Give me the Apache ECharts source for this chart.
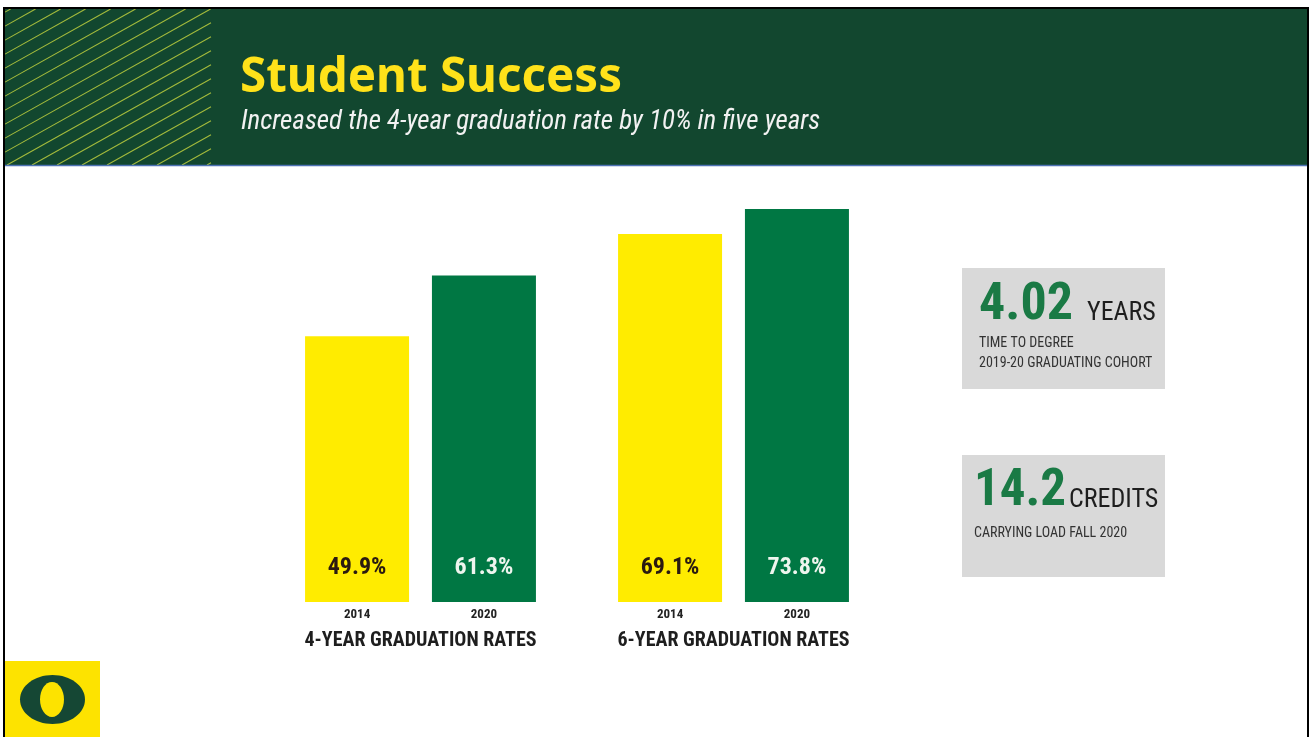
<!DOCTYPE html>
<html>
<head>
<meta charset="utf-8">
<script src="https://cdn.jsdelivr.net/npm/echarts@6/dist/echarts.min.js"></script>
<style>
html,body{margin:0;padding:0;background:#fff;}
#chart{width:1310px;height:737px;}
</style>
</head>
<body>
<div id="chart"></div>
<script>
// ---- data ----
const groups = ['4-YEAR GRADUATION RATES', '6-YEAR GRADUATION RATES'];
const years = ['2014', '2020'];
const rates2014 = [49.9, 69.1];
const rates2020 = [61.3, 73.8];
const stat1 = { value: '4.02', unit: 'YEARS', lines: ['TIME TO DEGREE', '2019-20 GRADUATING COHORT'] };
const stat2 = { value: '14.2', unit: 'CREDITS', lines: ['CARRYING LOAD FALL 2020'] };
const titleText = 'Student Success';
const subtitleText = 'Increased the 4-year graduation rate by 10% in five years';

const COND = "'Roboto Condensed','Open Sans Condensed',sans-serif";
const HEADER_GREEN = '#12472f';
const BAR_YELLOW = '#ffec00';
const BAR_GREEN = '#007743';
const LOGO_YELLOW = '#fde300';

// ---- decoration: stripes in header ----
const stripes = [];
(function () {
  const x0 = 5, x1 = 211, yTop = 9, yBot = 165, k = 0.56;
  for (let c = 32 - 25 * 12; c < x1; c += 25) {
    const xs = Math.max(x0, c);
    const ys = yBot - k * (xs - c);
    const xe = Math.min(x1, c + (yBot - yTop) / k);
    const ye = yBot - k * (xe - c);
    if (ys < yTop || xe <= xs) continue;
    stripes.push({
      type: 'line', silent: true,
      shape: { x1: xs, y1: ys, x2: xe, y2: ye },
      style: { stroke: '#a4bb3c', lineWidth: 1.1 }
    });
  }
})();

const chart = echarts.init(document.getElementById('chart'), null, { renderer: 'canvas' });

function barLabel(valColor) {
  return {
    show: true,
    position: 'bottom',
    distance: 0,
    offset: [0, -74],
    formatter: function (p) { return '{v|' + p.value.toFixed(1) + '%}\n{y|' + p.seriesName + '}'; },
    rich: {
      v: { fontFamily: COND, fontWeight: 'bold', fontSize: 24, color: valColor, lineHeight: 80 },
      y: { fontFamily: COND, fontWeight: 'bold', fontSize: 13, color: '#222', lineHeight: 14 }
    }
  };
}

function txt(x, y, text, font, fill) {
  return { type: 'text', silent: true, style: { x: x, y: y, text: text, font: font, fill: fill, textVerticalAlign: 'middle' } };
}

const graphics = [
  // header band
  { type: 'rect', shape: { x: 5, y: 9, width: 1302, height: 157 }, style: { fill: HEADER_GREEN } },
  { type: 'group', children: stripes },
  { type: 'line', shape: { x1: 5, y1: 165.5, x2: 1307, y2: 165.5 }, style: { stroke: '#4d72b4', lineWidth: 1.5 } },
  // frame
  { type: 'rect', shape: { x: 3, y: 7, width: 1306, height: 2 }, style: { fill: '#000' } },
  { type: 'rect', shape: { x: 3, y: 7, width: 2, height: 730 }, style: { fill: '#000' } },
  { type: 'rect', shape: { x: 1307, y: 7, width: 2, height: 730 }, style: { fill: '#000' } },
  // title
  txt(240, 78, titleText, "bold 47.5px 'Noto Sans',sans-serif", '#ffe21a'),
  txt(241, 122, subtitleText, "italic 27px " + COND, '#f2f2f2'),
  // stat boxes
  { type: 'rect', shape: { x: 962, y: 268, width: 203, height: 121 }, style: { fill: '#d9d9d9' } },
  txt(979, 306, stat1.value, "bold 52px " + COND, '#1a7a45'),
  txt(1087, 313, stat1.unit, "26px " + COND, '#1e1e1e'),
  txt(979, 343, stat1.lines[0], "14px " + COND, '#333'),
  txt(979, 363, stat1.lines[1], "14px " + COND, '#333'),
  { type: 'rect', shape: { x: 962, y: 455, width: 203, height: 122 }, style: { fill: '#d9d9d9' } },
  txt(974, 492, stat2.value, "bold 51px " + COND, '#1a7a45'),
  txt(1069, 500, stat2.unit, "26px " + COND, '#1e1e1e'),
  txt(974, 533, stat2.lines[0], "14px " + COND, '#333'),
  // logo
  { type: 'rect', shape: { x: 5, y: 661, width: 95, height: 76 }, style: { fill: LOGO_YELLOW } },
  { type: 'ellipse', shape: { cx: 52.5, cy: 699.5, rx: 32.5, ry: 24.5 }, style: { fill: '#154734' } },
  { type: 'ellipse', shape: { cx: 52, cy: 699.5, rx: 12, ry: 17.5 }, style: { fill: LOGO_YELLOW } }
];

chart.setOption({
  animation: false,
  backgroundColor: '#ffffff',
  graphic: graphics,
  grid: { left: 264, right: 420, top: 176, bottom: 135, containLabel: false },
  xAxis: {
    type: 'category',
    data: groups,
    axisLine: { show: false },
    axisTick: { show: false },
    axisLabel: { interval: 0, margin: 29, fontFamily: COND, fontWeight: 'bold', fontSize: 20, color: '#1e1e1e' }
  },
  yAxis: { type: 'value', min: 0, max: 80, show: false, splitLine: { show: false } },
  series: [
    { name: years[0], type: 'bar', data: rates2014, barWidth: 104, barGap: '22%', itemStyle: { color: BAR_YELLOW }, label: barLabel('#2a1a10') },
    { name: years[1], type: 'bar', data: rates2020, barWidth: 104, barGap: '22%', itemStyle: { color: BAR_GREEN }, label: barLabel('#eef5ee') }
  ]
});
</script>
</body>
</html>
